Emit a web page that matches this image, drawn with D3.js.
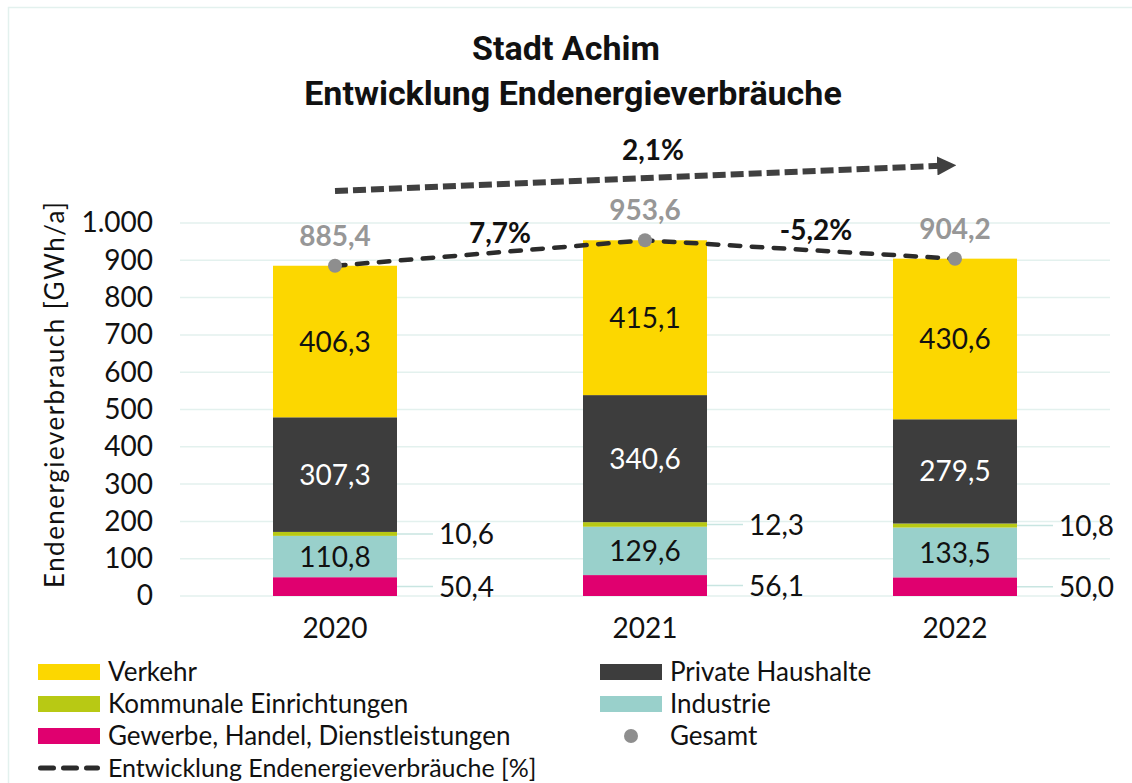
<!DOCTYPE html>
<html><head><meta charset="utf-8">
<script src="https://cdn.jsdelivr.net/npm/d3@7/dist/d3.min.js"></script>
<style>body{margin:0;background:#fff}svg{display:block}</style>
</head><body><div id="chart"></div>
<script>
const years = ["2020","2021","2022"];
const gewerbe = [50.4, 56.1, 50.0];
const industrie = [110.8, 129.6, 133.5];
const kommunal = [10.6, 12.3, 10.8];
const haushalte = [307.3, 340.6, 279.5];
const verkehr = [406.3, 415.1, 430.6];
const gesamt = [885.4, 953.6, 904.2];
const changeLabels = ["7,7%", "-5,2%"];
const overallChange = "2,1%";
const yTicks = [0,100,200,300,400,500,600,700,800,900,1000];
const seriesNames = ["Gewerbe, Handel, Dienstleistungen","Industrie","Kommunale Einrichtungen","Private Haushalte","Verkehr"];
const seriesColors = ["#e0006f","#99d0cb","#b8c914","#3d3d3d","#fcd700"];

const W = 1132, H = 783;
const svg = d3.select("#chart").append("svg").attr("width", W).attr("height", H);
const font = "Lato, 'Open Sans', sans-serif";
const numSize = 28, txtSize = 26;

// frame
svg.append("path").attr("d", `M8.5,${H} V7.5 H${W}`).attr("fill","none").attr("stroke","#e3f1ee").attr("stroke-width",1.5);

const x = d3.scaleBand().domain(years).range([180, 1110]).paddingInner(0.6).paddingOuter(0.3);
const y = d3.scaleLinear().domain([0, 1000]).range([596, 223]);
const fmt = v => d3.format(".1f")(v).replace(".", ",");

// gridlines
svg.append("g").selectAll("line").data(yTicks).join("line")
  .attr("x1", 180).attr("x2", 1110).attr("y1", d => y(d)).attr("y2", d => y(d))
  .attr("stroke", "#e3f1ee").attr("stroke-width", 1.5);

// y axis
const yAxis = svg.append("g").attr("transform", "translate(160,0)")
  .call(d3.axisLeft(y).tickValues(yTicks).tickSize(0).tickPadding(7)
    .tickFormat(d => d3.format(",")(d).replace(",", ".")));
yAxis.select(".domain").remove();
yAxis.selectAll("text").attr("font-family", font).attr("font-size", numSize).attr("font-weight", 400).attr("fill", "#111");

// x axis
const xAxis = svg.append("g").attr("transform", "translate(0,606)")
  .call(d3.axisBottom(x).tickSize(0).tickPadding(12));
xAxis.select(".domain").remove();
xAxis.selectAll("text").attr("font-family", font).attr("font-size", numSize).attr("font-weight", 400).attr("fill", "#111");

// y title
svg.append("text").attr("transform", "translate(64,395) rotate(-90)").attr("text-anchor", "middle")
  .attr("font-family", font).attr("font-size", 26).attr("font-weight", 400).attr("fill", "#111")
  .attr("textLength", 386).attr("lengthAdjust", "spacing")
  .text("Endenergieverbrauch [GWh/a]");

// stacked data
const table = years.map((yr, i) => ({year: yr, s0: gewerbe[i], s1: industrie[i], s2: kommunal[i], s3: haushalte[i], s4: verkehr[i]}));
const keys = ["s0","s1","s2","s3","s4"];
const stack = d3.stack().keys(keys)(table);

const layers = svg.append("g").selectAll("g").data(stack).join("g").attr("fill", (d, i) => seriesColors[i]);
layers.selectAll("rect").data(d => d).join("rect")
  .attr("x", d => x(d.data.year)).attr("width", x.bandwidth())
  .attr("y", d => y(d[1])).attr("height", d => y(d[0]) - y(d[1]));

// inside labels: industrie, haushalte, verkehr
const inside = [{k:1, col:"#111"},{k:3, col:"#fff"},{k:4, col:"#111"}];
inside.forEach(o => {
  svg.append("g").selectAll("text").data(stack[o.k]).join("text")
    .attr("x", d => x(d.data.year) + x.bandwidth()/2)
    .attr("y", d => y((d[0]+d[1])/2)).attr("dy", "0.36em")
    .attr("text-anchor", "middle").attr("font-family", font).attr("font-size", numSize).attr("font-weight", 400)
    .attr("fill", o.col).text(d => fmt(d[1]-d[0]));
});

// outside labels with leader lines: gewerbe (0), kommunal (2)
[0, 2].forEach(k => {
  const g = svg.append("g");
  g.selectAll("line").data(stack[k]).join("line")
    .attr("x1", d => x(d.data.year) + x.bandwidth())
    .attr("x2", d => x(d.data.year) + x.bandwidth() + 36)
    .attr("y1", d => y((d[0]+d[1])/2)).attr("y2", d => y((d[0]+d[1])/2))
    .attr("stroke", "#c8e5e1").attr("stroke-width", 1.5);
  g.selectAll("text").data(stack[k]).join("text")
    .attr("x", d => x(d.data.year) + x.bandwidth() + 42)
    .attr("y", d => y((d[0]+d[1])/2)).attr("dy", "0.36em")
    .attr("font-family", font).attr("font-size", numSize).attr("font-weight", 400).attr("fill", "#111")
    .text(d => fmt(d[1]-d[0]));
});

// total line
const cx = yr => x(yr) + x.bandwidth()/2;
const line = d3.line().x((d, i) => cx(years[i])).y(d => y(d));
svg.append("path").attr("d", line(gesamt)).attr("fill", "none")
  .attr("stroke", "#2b2b2b").attr("stroke-width", 4.5).attr("stroke-linecap", "round").attr("stroke-dasharray", "10.5,11.5");
svg.append("g").selectAll("circle").data(gesamt).join("circle")
  .attr("cx", (d, i) => cx(years[i])).attr("cy", d => y(d)).attr("r", 7).attr("fill", "#8e8e8e");
svg.append("g").selectAll("text").data(gesamt).join("text")
  .attr("x", (d, i) => cx(years[i])).attr("y", d => y(d) - 30).attr("dy", "0.36em")
  .attr("text-anchor", "middle").attr("font-family", font).attr("font-size", numSize).attr("font-weight", 700)
  .attr("fill", "#979797").text(d => fmt(d));

// change labels
svg.append("g").selectAll("text").data(changeLabels).join("text")
  .attr("x", (d, i) => (cx(years[i]) + cx(years[i+1]))/2 + 10 + i * 6)
  .attr("y", (d, i) => (y(gesamt[i]) + y(gesamt[i+1]))/2 - 20).attr("dy", "0.36em")
  .attr("text-anchor", "middle").attr("font-family", font).attr("font-size", numSize).attr("font-weight", 700)
  .attr("fill", "#111").text(d => d);

// overall arrow
const ax1 = cx(years[0]), ax2 = cx(years[2]);
const ay1 = y(1086), ay2 = y(1155);
svg.append("defs").append("marker").attr("id", "arr").attr("viewBox", "0 0 10 10")
  .attr("refX", 2).attr("refY", 5).attr("markerWidth", 3.2).attr("markerHeight", 3.2).attr("orient", "auto")
  .append("path").attr("d", "M0,0 L10,5 L0,10 Z").attr("fill", "#404040");
svg.append("line").attr("x1", ax1).attr("y1", ay1).attr("x2", ax2 - 14).attr("y2", ay2 + (ay1-ay2)*14/(ax2-ax1))
  .attr("stroke", "#404040").attr("stroke-width", 6).attr("stroke-dasharray", "13,5").attr("marker-end", "url(#arr)");
svg.append("text").attr("x", (ax1+ax2)/2 + 8).attr("y", 150).attr("dy", "0.36em").attr("text-anchor", "middle")
  .attr("font-family", font).attr("font-size", numSize).attr("font-weight", 700).attr("fill", "#111").text(overallChange);

// title
const title = svg.append("text").attr("text-anchor", "middle").attr("font-family", "Roboto, sans-serif")
  .attr("font-weight", 700).attr("font-size", 34).attr("fill", "#111");
title.append("tspan").attr("x", 566).attr("y", 60).text("Stadt Achim");
title.append("tspan").attr("x", 573).attr("y", 105).text("Entwicklung Endenergieverbräuche");

// legend
const legend = [
  {name: seriesNames[4], type: "rect", color: seriesColors[4], col: 0, row: 0},
  {name: seriesNames[3], type: "rect", color: seriesColors[3], col: 1, row: 0},
  {name: seriesNames[2], type: "rect", color: seriesColors[2], col: 0, row: 1},
  {name: seriesNames[1], type: "rect", color: seriesColors[1], col: 1, row: 1},
  {name: seriesNames[0], type: "rect", color: seriesColors[0], col: 0, row: 2},
  {name: "Gesamt", type: "dot", color: "#8e8e8e", col: 1, row: 2},
  {name: "Entwicklung Endenergieverbräuche [%]", type: "dash", color: "#2b2b2b", col: 0, row: 3}
];
const lg = svg.append("g").selectAll("g").data(legend).join("g")
  .attr("transform", d => `translate(${d.col ? 600 : 38},${672 + d.row * 32})`);
lg.filter(d => d.type === "rect").append("rect").attr("x", 0).attr("y", -8).attr("width", 62).attr("height", 16).attr("fill", d => d.color);
lg.filter(d => d.type === "dot").append("circle").attr("cx", 31).attr("cy", 0).attr("r", 7).attr("fill", d => d.color);
lg.filter(d => d.type === "dash").append("line").attr("x1", 2.5).attr("x2", 59.5).attr("y1", 0).attr("y2", 0)
  .attr("stroke", d => d.color).attr("stroke-width", 5).attr("stroke-linecap", "round").attr("stroke-dasharray", "13,10");
lg.append("text").attr("x", 70).attr("y", 0).attr("dy", "0.34em")
  .attr("font-family", font).attr("font-size", d => d.row === 3 ? 25 : txtSize).attr("font-weight", 400).attr("fill", "#111").text(d => d.name);
</script></body></html>
